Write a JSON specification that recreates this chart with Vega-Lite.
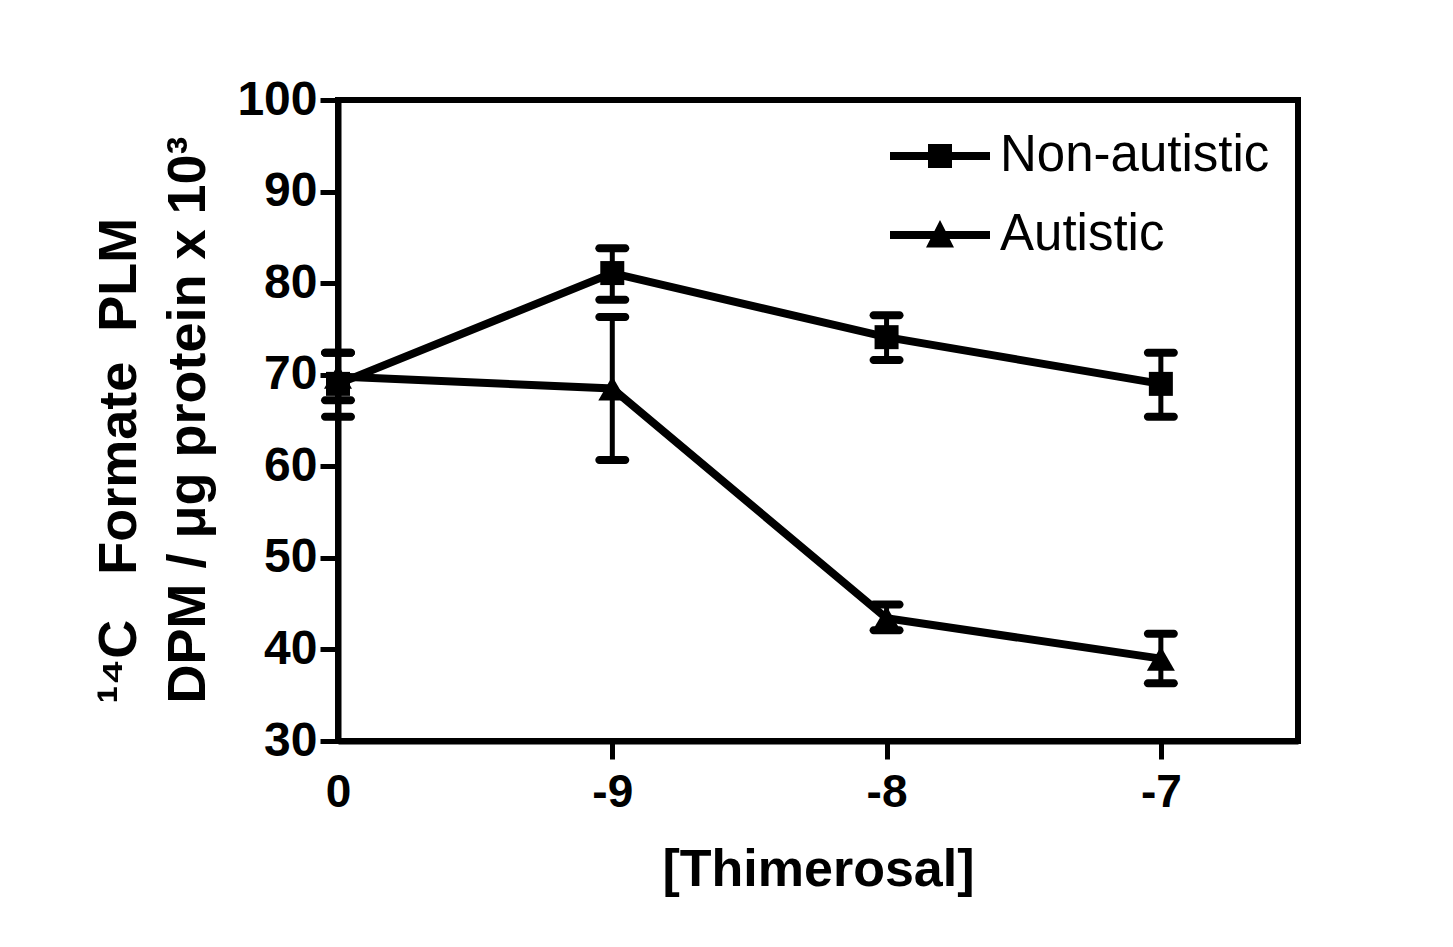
{
  "$schema": "https://vega.github.io/schema/vega-lite/v6.json",
  "width": 960,
  "height": 641,
  "autosize": {"type": "none"},
  "padding": {"left": 338, "top": 100, "right": 155, "bottom": 206},
  "background": "white",
  "config": {
    "view": {"stroke": "black", "strokeWidth": 6},
    "font": "Liberation Sans",
    "legend": {
      "orient": "none", "title": null, "padding": 0,
      "labelFont": "Liberation Sans", "labelFontSize": 51, "labelColor": "black", "labelOffset": 10, "labelLimit": 500,
      "symbolSize": 10000, "clipHeight": 70,
      "symbolStrokeWidth": 0, "symbolFillColor": "black", "symbolOpacity": 1
    }
  },
  "data": {"values": [
    {"group": "Non-autistic", "xi": 0, "mean": 69.0, "lo": 65.4, "hi": 72.4},
    {"group": "Non-autistic", "xi": 1, "mean": 81.1, "lo": 78.2, "hi": 83.8},
    {"group": "Non-autistic", "xi": 2, "mean": 74.1, "lo": 71.6, "hi": 76.5},
    {"group": "Non-autistic", "xi": 3, "mean": 69.0, "lo": 65.4, "hi": 72.4},
    {"group": "Autistic", "xi": 0, "mean": 69.8, "lo": 67.2, "hi": 72.4},
    {"group": "Autistic", "xi": 1, "mean": 68.5, "lo": 60.7, "hi": 76.3},
    {"group": "Autistic", "xi": 2, "mean": 43.4, "lo": 42.1, "hi": 44.9},
    {"group": "Autistic", "xi": 3, "mean": 39.0, "lo": 36.3, "hi": 41.7}
  ]},
  "encoding": {
    "x": {
      "field": "xi", "type": "quantitative",
      "scale": {"domain": [0, 3.5], "nice": false, "zero": false},
      "axis": {
        "values": [0, 1, 2, 3],
        "labelExpr": "['0','-9','-8','-7'][datum.value]",
        "labelFont": "Liberation Sans", "labelFontWeight": "bold", "labelFontSize": 46, "labelColor": "black",
        "labelPadding": 11, "labelFlush": false,
        "tickColor": {"condition": {"test": "datum.value === 0", "value": "transparent"}, "value": "black"},
        "tickWidth": 5, "tickSize": 18,
        "domainColor": "black", "domainWidth": 6, "grid": false,
        "title": "[Thimerosal]", "titleFont": "Liberation Sans", "titleFontSize": 52, "titleFontWeight": "bold", "titleColor": "black",
        "titleBaseline": "alphabetic", "titleX": 480, "titleY": 144, "titleAlign": "center"
      }
    }
  },
  "layer": [
    {
      "mark": {"type": "rule", "color": "black", "strokeWidth": 5},
      "encoding": {
        "y": {
          "field": "lo", "type": "quantitative",
          "scale": {"domain": [30, 100], "nice": false, "zero": false},
          "axis": {
            "values": [30, 40, 50, 60, 70, 80, 90, 100],
            "labelFont": "Liberation Sans", "labelFontWeight": "bold", "labelFontSize": 48, "labelColor": "black",
            "labelPadding": 3, "labelFlush": false,
            "tickColor": "black", "tickWidth": 5, "tickSize": 18,
            "domainColor": "black", "domainWidth": 6, "grid": false,
            "title": ["¹⁴C\u00a0\u00a0\u00a0Formate\u00a0\u00a0PLM", "DPM / μg protein x 10³"],
            "titleFont": "Liberation Sans", "titleFontSize": 54, "titleFontWeight": "bold", "titleColor": "black",
            "titleAngle": -90, "titleLineHeight": 69, "titleAlign": "left", "titleBaseline": "alphabetic",
            "titleX": -203, "titleY": 603
          }
        },
        "y2": {"field": "hi"}
      }
    },
    {
      "mark": {"type": "tick", "orient": "horizontal", "color": "black", "size": 34, "thickness": 8, "cornerRadius": 4, "opacity": 1},
      "encoding": {"y": {"field": "hi", "type": "quantitative"}}
    },
    {
      "mark": {"type": "tick", "orient": "horizontal", "color": "black", "size": 34, "thickness": 8, "cornerRadius": 4, "opacity": 1},
      "encoding": {"y": {"field": "lo", "type": "quantitative"}}
    },
    {
      "mark": {"type": "line", "color": "black", "strokeWidth": 8},
      "encoding": {
        "y": {"field": "mean", "type": "quantitative"},
        "detail": {"field": "group"}
      }
    },
    {
      "transform": [{"filter": "datum.group === 'Non-autistic'"}],
      "mark": {"type": "point", "filled": true, "shape": "square", "size": 576, "opacity": 1},
      "encoding": {
        "y": {"field": "mean", "type": "quantitative"},
        "color": {
          "field": "group", "type": "nominal",
          "scale": {"domain": ["Non-autistic"], "range": ["black"]},
          "legend": {
            "legendX": 552, "legendY": 21,
            "symbolType": "M-1,-0.08H1V0.08H-1Z M-0.24,-0.24H0.24V0.24H-0.24Z"
          }
        }
      }
    },
    {
      "transform": [{"filter": "datum.group === 'Autistic'"}],
      "mark": {"type": "point", "filled": true, "shape": "triangle-up", "size": 784, "opacity": 1},
      "encoding": {
        "y": {"field": "mean", "type": "quantitative"},
        "fill": {
          "field": "group", "type": "nominal",
          "scale": {"domain": ["Autistic"], "range": ["black"]},
          "legend": {
            "legendX": 552, "legendY": 100,
            "symbolType": "M-1,-0.08H1V0.08H-1Z M0,-0.3L0.28,0.25H-0.28Z"
          }
        }
      }
    }
  ]
}
